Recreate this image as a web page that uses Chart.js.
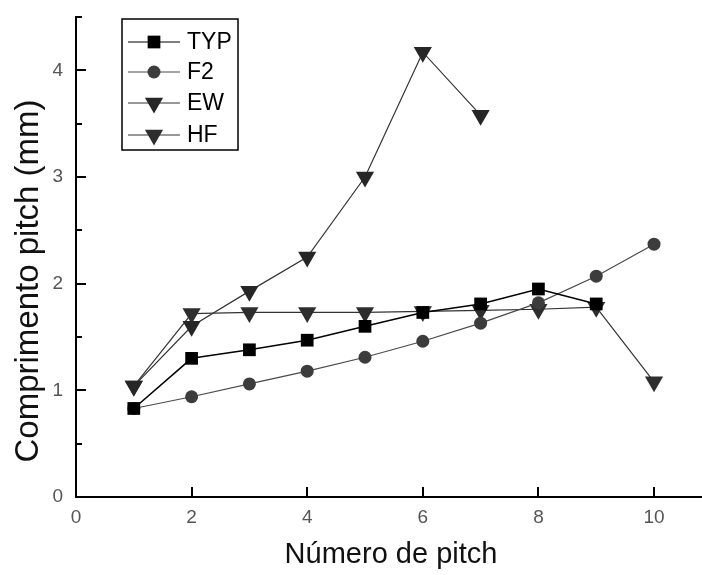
<!DOCTYPE html>
<html>
<head>
<meta charset="utf-8">
<script src="https://cdn.jsdelivr.net/npm/chart.js@4/dist/chart.umd.min.js"></script>
<style>
  html, body { margin: 0; padding: 0; background: #fff; overflow: hidden; }
  #wrap { width: 702px; height: 575px; }
</style>
</head>
<body>
<div id="wrap"><canvas id="pitchChart" width="702" height="575"></canvas></div>
<script>
// Comprimento pitch por número de pitch
const pitchNumbers = [1, 2, 3, 4, 5, 6, 7, 8, 9, 10];
const typValues = [0.83, 1.30, 1.38, 1.47, 1.60, 1.73, 1.81, 1.95, 1.81];
const f2Values = [0.83, 0.94, 1.06, 1.18, 1.31, 1.46, 1.63, 1.82, 2.07, 2.37];
const ewValues = [1.04, 1.60, 1.93, 2.25, 3.00, 4.17, 3.58];
const hfValues = [1.04, 1.72, 1.73, 1.73, 1.73, 1.74, 1.75, 1.76, 1.78, 1.08];
const seriesNames = ['TYP', 'F2', 'EW', 'HF'];
const xTicks = [0, 2, 4, 6, 8, 10];
const yTicks = [0, 1, 2, 3, 4];
const xTitle = 'Número de pitch';
const yTitle = 'Comprimento pitch (mm)';

function toPoints(values) {
    return values.map((v, i) => ({ x: pitchNumbers[i], y: v }));
}

const FONT = '"Liberation Sans", Arial, sans-serif';
const NARROW = '"Liberation Sans Narrow", "Arial Narrow", "Liberation Sans", sans-serif';

// Ticks voltados para dentro, como no gráfico original
const innerTicks = {
    id: 'innerTicks',
    afterDatasetsDraw(chart) {
        const ctx = chart.ctx;
        const x = chart.scales.x, y = chart.scales.y;
        const area = chart.chartArea;
        ctx.save();
        ctx.strokeStyle = '#000';
        ctx.lineWidth = 2;
        xTicks.forEach(t => {
            if (t === 0) return;
            const px = Math.round(x.getPixelForValue(t));
            ctx.beginPath();
            ctx.moveTo(px, area.bottom);
            ctx.lineTo(px, area.bottom - 10);
            ctx.stroke();
        });
        yTicks.forEach(t => {
            if (t === 0) return;
            const py = Math.round(y.getPixelForValue(t));
            ctx.beginPath();
            ctx.moveTo(area.left, py);
            ctx.lineTo(area.left + 10, py);
            ctx.stroke();
        });
        yTicks.forEach(t => {
            const py = Math.round(y.getPixelForValue(t + 0.5));
            ctx.beginPath();
            ctx.moveTo(area.left, py);
            ctx.lineTo(area.left + 6, py);
            ctx.stroke();
        });
        ctx.restore();
    }
};

// Títulos dos eixos
const axisTitles = {
    id: 'axisTitles',
    afterDraw(chart) {
        const ctx = chart.ctx;
        ctx.save();
        ctx.fillStyle = '#111';
        ctx.textAlign = 'center';
        ctx.textBaseline = 'alphabetic';
        ctx.font = '29px ' + FONT;
        ctx.fillText(xTitle, 391, 563);
        ctx.translate(38, 281);
        ctx.rotate(-Math.PI / 2);
        ctx.font = '33px ' + FONT;
        ctx.fillText(yTitle, 0, 0);
        ctx.restore();
    }
};

// Legenda em caixa, com linha + marcador
const boxLegend = {
    id: 'boxLegend',
    afterDraw(chart) {
        const ctx = chart.ctx;
        const left = 122, top = 19, w = 116, h = 131;
        ctx.save();
        ctx.fillStyle = '#fff';
        ctx.fillRect(left, top, w, h);
        ctx.strokeStyle = '#000';
        ctx.lineWidth = 1.5;
        ctx.strokeRect(left, top, w, h);
        const rows = [42, 72, 103, 135];
        chart.data.datasets.forEach((ds, i) => {
            const cy = rows[i];
            ctx.strokeStyle = ds.borderColor;
            ctx.lineWidth = 1.2;
            ctx.beginPath();
            ctx.moveTo(128, cy);
            ctx.lineTo(180, cy);
            ctx.stroke();
            ctx.fillStyle = ds.pointBackgroundColor;
            ctx.strokeStyle = ds.pointBorderColor;
            Chart.helpers.drawPoint(ctx, {
                pointStyle: ds.pointStyle,
                rotation: ds.pointRotation || 0,
                radius: ds.pointRadius,
                borderWidth: 0
            }, 154, cy);
            ctx.fillStyle = '#000';
            ctx.font = '23px ' + FONT;
            ctx.textBaseline = 'middle';
            ctx.textAlign = 'left';
            ctx.fillText(ds.label, 187, cy + 1);
        });
        ctx.restore();
    }
};

const ctx = document.getElementById('pitchChart').getContext('2d');
new Chart(ctx, {
    type: 'line',
    data: {
        datasets: [
            {
                label: seriesNames[0],
                data: toPoints(typValues),
                borderColor: '#000',
                borderWidth: 1.5,
                pointStyle: 'rect',
                pointRadius: 9,
                pointBackgroundColor: '#000',
                pointBorderColor: '#000',
                pointBorderWidth: 0
            },
            {
                label: seriesNames[1],
                data: toPoints(f2Values),
                borderColor: '#4a4a4a',
                borderWidth: 1.2,
                pointStyle: 'circle',
                pointRadius: 6.5,
                pointBackgroundColor: '#3c3c3c',
                pointBorderColor: '#3c3c3c',
                pointBorderWidth: 0
            },
            {
                label: seriesNames[2],
                data: toPoints(ewValues),
                borderColor: '#333',
                borderWidth: 1.2,
                pointStyle: 'triangle',
                pointRotation: 180,
                pointRadius: 10.5,
                pointBackgroundColor: '#262626',
                pointBorderColor: '#262626',
                pointBorderWidth: 0
            },
            {
                label: seriesNames[3],
                data: toPoints(hfValues),
                borderColor: '#333',
                borderWidth: 1.2,
                pointStyle: 'triangle',
                pointRotation: 180,
                pointRadius: 10.5,
                pointBackgroundColor: '#2e2e2e',
                pointBorderColor: '#2e2e2e',
                pointBorderWidth: 0
            }
        ]
    },
    options: {
        responsive: false,
        animation: false,
        layout: { autoPadding: false, padding: { top: 17, right: 0, bottom: 0, left: 0 } },
        plugins: {
            legend: { display: false },
            tooltip: { enabled: false }
        },
        elements: { line: { tension: 0 } },
        scales: {
            x: {
                type: 'linear',
                min: 0,
                max: 10.83,
                afterFit: s => {
                    s.height = 78;
                    s.paddingLeft = 0;
                    s.paddingRight = 0;
                },
                afterBuildTicks: s => { s.ticks = xTicks.map(v => ({ value: v })); },
                grid: { display: false, drawTicks: false },
                border: { display: true, color: '#000', width: 2 },
                ticks: {
                    padding: 9,
                    color: '#555',
                    font: { family: NARROW, size: 19 }
                }
            },
            y: {
                type: 'linear',
                min: 0,
                max: 4.5,
                afterFit: s => {
                    s.width = 76;
                    s.paddingTop = 0;
                    s.paddingBottom = 0;
                },
                afterBuildTicks: s => { s.ticks = yTicks.map(v => ({ value: v })); },
                grid: { display: false, drawTicks: false },
                border: { display: true, color: '#000', width: 2 },
                ticks: {
                    padding: 13,
                    color: '#555',
                    font: { family: NARROW, size: 19 }
                }
            }
        }
    },
    plugins: [innerTicks, axisTitles, boxLegend]
});
</script>
</body>
</html>
